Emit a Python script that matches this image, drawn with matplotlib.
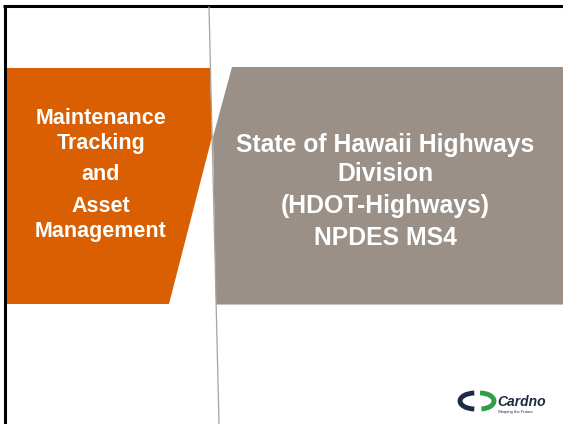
import matplotlib.pyplot as plt
from matplotlib.patches import Polygon, Arc

# slide text
left_lines = ["Maintenance", "Tracking", "and", "Asset", "Management"]
left_y = [118, 144, 174, 206, 232]
right_lines = ["State of Hawaii Highways", "Division", "(HDOT-Highways)", "NPDES MS4"]
right_y = [145, 174, 206, 238]

orange = "#D95F02"
grey = "#9A9087"

fig = plt.figure(figsize=(5.63, 4.24), dpi=100)
ax = fig.add_axes([0, 0, 1, 1])
ax.set_xlim(0, 563)
ax.set_ylim(424, 0)
ax.axis("off")

# black frame (top and left only)
ax.plot([3, 563], [6, 6], color="black", lw=2.2, solid_capstyle="butt")
ax.plot([4.5, 4.5], [5, 424], color="black", lw=2.2, solid_capstyle="butt")

# orange and grey panels
ax.add_patch(Polygon([(6, 68), (210, 68), (212, 137), (169, 304), (6, 304)],
                     closed=True, facecolor=orange, edgecolor="none"))
ax.add_patch(Polygon([(232, 67), (563, 67), (563, 304), (216, 304), (213, 137)],
                     closed=True, facecolor=grey, edgecolor="none"))
ax.plot([216, 563], [304, 304], color="#C9C4BE", lw=0.8)

# thin divider line
ax.plot([209, 219], [7, 424], color="#A9A39D", lw=0.9)

for s, y in zip(left_lines, left_y):
    ax.text(101, y, s, color="white", fontsize=15.5, fontweight="bold",
            family="Liberation Sans", ha="center", va="center")
for s, y in zip(right_lines, right_y):
    ax.text(385, y, s, color="white", fontsize=17.8, fontweight="bold",
            family="Liberation Sans", ha="center", va="center")

# Cardno logo
ax.add_patch(Arc((475, 401), 30, 16, theta1=95, theta2=265, color="#1F2A44", lw=3.5))
ax.add_patch(Arc((480, 401), 28, 16, theta1=-90, theta2=80, color="#2E9E4B", lw=3.5))
ax.text(497, 402, "Cardno", color="#1F2A44", fontsize=10, fontweight="bold",
        style="italic", family="Liberation Sans", ha="left", va="center")
ax.text(498, 412.5, "Shaping the Future", color="#1F2A44", fontsize=3,
        family="Liberation Sans", ha="left", va="center")

fig.savefig("out.png", dpi=100)
